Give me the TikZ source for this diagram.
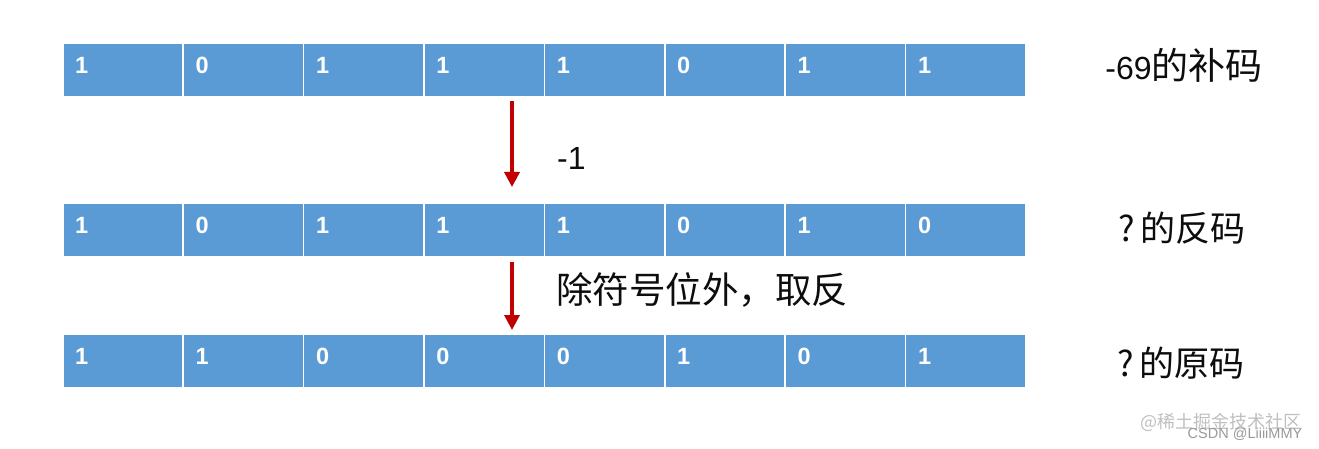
\documentclass[tikz,border=0pt]{standalone}
\usepackage{fontspec}
\setmainfont{Liberation Sans}
\newfontfamily\cjk{Noto Sans CJK SC}
\usetikzlibrary{arrows.meta}
\definecolor{cellblue}{HTML}{5B9BD5}
\definecolor{arrowred}{HTML}{C00000}
\definecolor{labelink}{HTML}{0D0D0D}
\begin{document}
\begin{tikzpicture}[x=1pt,y=-1pt,
  cell/.style={draw=white, line width=1.6pt, fill=cellblue, minimum width=120.4pt, minimum height=54pt, inner sep=0pt, anchor=north west},
  bit/.style={text=white, font=\fontsize{23.5}{23.5}\selectfont\bfseries, inner sep=0pt, anchor=west},
  lbl/.style={text=labelink, inner sep=0pt},
  redarrow/.style={draw=arrowred, line width=3.5pt, -{Triangle[length=15pt,width=15pt]}},
  wm/.style={inner sep=0pt}]
\useasboundingbox (0,0) rectangle (1319,449);
\foreach \r/\y/\bits in {1/42/{1,0,1,1,1,0,1,1}, 2/202/{1,0,1,1,1,0,1,0}, 3/333/{1,1,0,0,0,1,0,1}}{
  \foreach \b [count=\c] in \bits {
    \node[cell] (c\r\c) at ({62+(\c-1)*120.4}, \y) {};
    \node[bit] (b\r\c) at ([xshift=13pt,yshift=4pt]c\r\c.west) {\b};
  }
}
\coordinate (ax) at (512,0);
\draw[redarrow, shorten <=3pt, shorten >=15pt] (c14.south -| ax) -- (c24.north -| ax);
\draw[redarrow, shorten <=4pt, shorten >=3pt] (c24.south -| ax) -- (c34.north -| ax);
\node[lbl, anchor=west, font=\fontsize{32}{32}\selectfont] (m1) at (557,158) {-1};
\node[lbl, anchor=west, font=\fontsize{36.5}{36.5}\selectfont\cjk] (m2) at (556,290) {除符号位外，取反};
\node[lbl] (l1) at (1184,65) {\fontsize{32}{32}\selectfont -69\fontsize{37}{37}\selectfont\cjk 的补码};
\node[lbl, font=\fontsize{35}{35}\selectfont\cjk] (l2) at (1182,228) {?\hspace{5pt}的反码};
\node[lbl, font=\fontsize{35}{35}\selectfont\cjk] (l3) at (1181,363) {?\hspace{5pt}的原码};
\node[wm, text=black!25, font=\fontsize{18}{18}\selectfont\cjk] (w1) at (1221,422) {@稀土掘金技术社区};
\node[wm, text=black!40, font=\fontsize{14.5}{14.5}\selectfont] (w2) at (1245,434) {CSDN @LiiiiMMY};
\end{tikzpicture}
\end{document}
